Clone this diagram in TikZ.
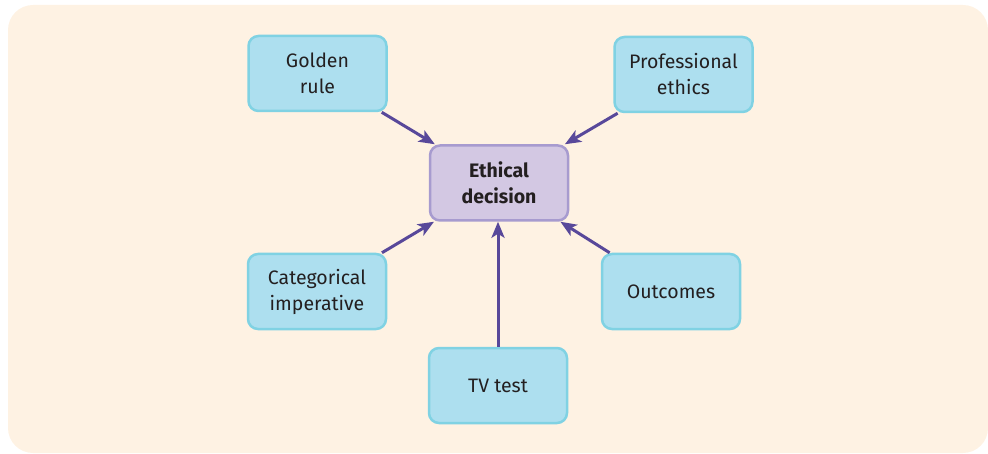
\documentclass[tikz,border=0pt]{standalone}
\usepackage{fontspec}
\setmainfont{Fira Sans}
\usetikzlibrary{arrows.meta}
\definecolor{bgP}{RGB}{254,242,227}
\definecolor{boxF}{RGB}{173,223,239}
\definecolor{boxD}{RGB}{128,210,227}
\definecolor{midF}{RGB}{211,200,227}
\definecolor{midD}{RGB}{167,155,207}
\definecolor{arrC}{RGB}{88,72,154}
\definecolor{txtC}{RGB}{35,31,32}

\begin{document}
\begin{tikzpicture}[x=1pt,y=1pt,
  item/.style={draw=boxD,fill=boxF,line width=2.5pt,rounded corners=10pt,
    minimum width=138pt,minimum height=75pt,align=center,
    font=\fontsize{19.5}{26}\selectfont,text=txtC},
  goal/.style={item,draw=midD,fill=midF,font=\fontsize{19.5}{26}\selectfont\bfseries},
  feed/.style={arrC,line width=3pt,-{Stealth[length=16pt,width=13pt,inset=4pt]}}]
\useasboundingbox (0,0) rectangle (988,453);
% backdrop
\fill[bgP,rounded corners=25pt] (8,0) rectangle (988,448);
% boxes
\node[goal] (ethical) at (499,270) {Ethical\\decision};
\node[item] (golden) at (317.5,379.5) {Golden\\rule};
\node[item] (prof) at (683.5,378.5) {Professional\\ethics};
\node[item] (categ) at (317,161.5) {Categorical\\imperative};
\node[item] (outc) at (671,161.5) {Outcomes};
\node[item] (tvtest) at (498,67.5) {TV test};
% arrows into the decision
\draw[feed] (golden) -- (ethical);
\draw[feed] (prof) -- (ethical);
\draw[feed] (categ) -- (ethical);
\draw[feed] (outc) -- (ethical);
\draw[feed] (tvtest.north) -- (tvtest.north |- ethical.south);
\end{tikzpicture}
\end{document}
